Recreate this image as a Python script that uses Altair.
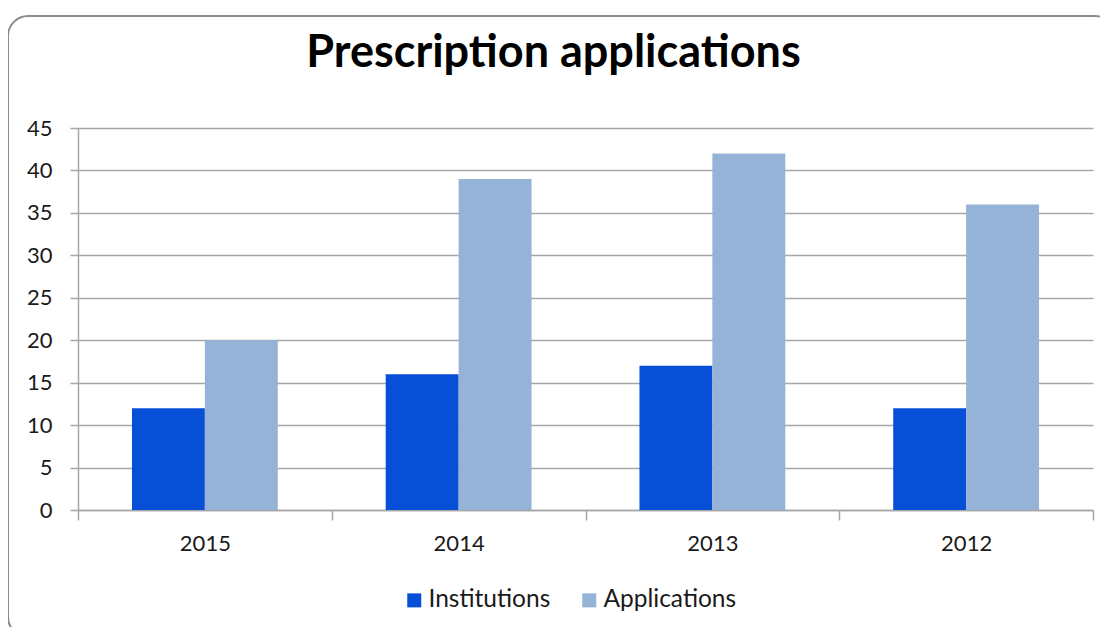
import altair as alt
import pandas as pd

years = ["2015", "2014", "2013", "2012"]
institutions = [12, 16, 17, 12]
applications = [20, 39, 42, 36]
series = ["Institutions", "Applications"]
colors = ["#074fd7", "#95b3d7"]
y_ticks = [0, 5, 10, 15, 20, 25, 30, 35, 40, 45]

rows = []
for yr, i, a in zip(years, institutions, applications):
    rows.append({"year": yr, "series": "Institutions", "value": i})
    rows.append({"year": yr, "series": "Applications", "value": a})
df = pd.DataFrame(rows)

FONT = "Lato"
GRID = "#a6a6a6"
TXT = "#1a1a1a"

bars = alt.Chart(df).mark_bar().encode(
    x=alt.X(
        "year:N",
        sort=years,
        scale=alt.Scale(paddingInner=0, paddingOuter=0),
        axis=alt.Axis(
            title=None,
            labelAngle=0,
            tickBand="extent",
            tickSize=10,
            tickColor=GRID,
            tickWidth=1.5,
            domainColor=GRID,
            domainWidth=1.5,
            labelFont=FONT,
            labelFontSize=22,
            labelColor=TXT,
            labelPadding=13,
            grid=False,
        ),
    ),
    xOffset=alt.XOffset(
        "series:N", sort=series, scale=alt.Scale(paddingInner=0, paddingOuter=0.74)
    ),
    y=alt.Y(
        "value:Q",
        scale=alt.Scale(domain=[0, 45], nice=False),
        axis=alt.Axis(
            title=None,
            values=y_ticks,
            tickSize=8,
            tickColor=GRID,
            tickWidth=1.5,
            domainColor=GRID,
            domainWidth=1.5,
            gridColor=GRID,
            gridWidth=1.5,
            labelFont=FONT,
            labelFontSize=22,
            labelColor=TXT,
            labelPadding=18,
        ),
    ),
    color=alt.Color(
        "series:N",
        sort=series,
        scale=alt.Scale(domain=series, range=colors),
        legend=alt.Legend(
            title=None,
            orient="none",
            legendX=324,
            legendY=460,
            direction="horizontal",
            symbolType="square",
            symbolSize=196,
            symbolStrokeWidth=0,
            labelFont=FONT,
            labelFontSize=24.5,
            labelColor=TXT,
            labelOffset=2,
            columnPadding=26,
        ),
    ),
)

border = alt.Chart(pd.DataFrame({"k": [0]})).mark_rect(
    fill="transparent", stroke="#8c8c8c", strokeWidth=2, cornerRadius=20
).encode(
    x=alt.value(-70), x2=alt.value(1037), y=alt.value(-112), y2=alt.value(509)
)

chart = alt.layer(border, bars).properties(
    width=1015,
    height=382,
    padding={"left": 70, "top": 120, "right": 7, "bottom": 117},
    autosize=alt.AutoSizeParams(type="none"),
    title=alt.Title(
        "Prescription applications",
        font=FONT,
        fontSize=45,
        fontWeight="bold",
        color="#000000",
        anchor="middle",
        frame="group",
        dx=-32,
        dy=71,
        offset=10,
    ),
).configure_view(stroke=None)

chart.save("out.html", embed_options={"renderer": "svg", "actions": False})
